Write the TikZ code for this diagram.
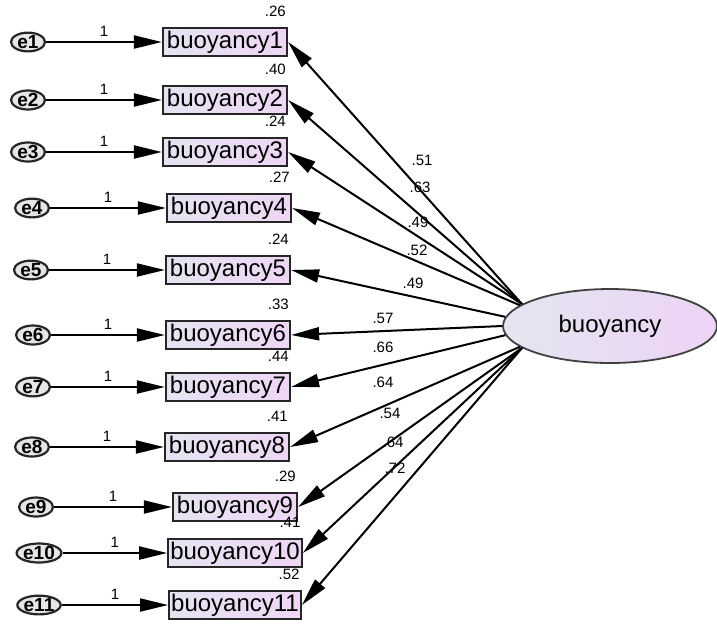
\documentclass[tikz,border=0pt]{standalone}
\usepackage{fontspec}
\setmainfont{Liberation Sans}
\usepackage{xcolor}
\usepackage{tikz}
\usetikzlibrary{arrows.meta,shapes.geometric}
\definecolor{obsleft}{HTML}{E4E4F2}
\definecolor{obsright}{HTML}{EFD6F4}
\definecolor{latleft}{HTML}{E3E6F0}
\definecolor{latright}{HTML}{EDD3F6}
\definecolor{errfill}{HTML}{E6E6E6}
\tikzset{
  obsbox/.style={draw=black!85, line width=1.1pt, left color=obsleft, right color=obsright, minimum width=62pt, minimum height=14pt, inner sep=1pt, font=\fontsize{12}{12}\selectfont},
  errnode/.style={draw=black!85, ellipse, line width=1.1pt, fill=errfill, minimum width=17pt, minimum height=9pt, inner sep=0pt, font=\bfseries\fontsize{9.5}{9.5}\selectfont},
  latnode/.style={draw=black!75, ellipse, line width=0.9pt, left color=latleft, right color=latright, minimum width=107pt, minimum height=37pt, inner sep=0pt, font=\fontsize{12}{12}\selectfont},
  semarrow/.style={-{Triangle[length=14pt,width=6.5pt]}, line width=1pt},
  fixlabel/.style={font=\fontsize{7.5}{7.5}\selectfont, inner sep=2.5pt},
  varlabel/.style={font=\fontsize{7.5}{7.5}\selectfont, inner sep=1pt, anchor=south east, yshift=4pt},
  loadlabel/.style={font=\fontsize{7.5}{7.5}\selectfont, inner sep=0pt}
}

\begin{document}
\begin{tikzpicture}[x=0.5pt,y=-0.5pt]
\useasboundingbox (0,0) rectangle (717,623);
% latent factor
\node[latnode] (lat) at (610,326) {buoyancy};
% indicators
\node[obsbox] (b1) at (225,42) {buoyancy1};
\node[obsbox] (b2) at (225,100) {buoyancy2};
\node[obsbox] (b3) at (225,152) {buoyancy3};
\node[obsbox] (b4) at (229,208) {buoyancy4};
\node[obsbox] (b5) at (228,270) {buoyancy5};
\node[obsbox] (b6) at (228,335) {buoyancy6};
\node[obsbox] (b7) at (228,387) {buoyancy7};
\node[obsbox] (b8) at (227,447) {buoyancy8};
\node[obsbox] (b9) at (235,507) {buoyancy9};
\node[obsbox] (b10) at (235,553) {buoyancy10};
\node[obsbox] (b11) at (235,605) {buoyancy11};
% error terms
\node[errnode] (e1) at (28,42) {e1};
\node[errnode] (e2) at (28,100) {e2};
\node[errnode] (e3) at (28,152) {e3};
\node[errnode] (e4) at (32,208) {e4};
\node[errnode] (e5) at (31,270) {e5};
\node[errnode] (e6) at (33,335) {e6};
\node[errnode] (e7) at (33,387) {e7};
\node[errnode] (e8) at (32,447) {e8};
\node[errnode] (e9) at (36,507) {e9};
\node[errnode] (e10) at (39,553) {e10};
\node[errnode] (e11) at (39,605) {e11};
% variances
\node[varlabel] (v1) at (b1.north east) {.26};
\node[varlabel] (v2) at (b2.north east) {.40};
\node[varlabel] (v3) at (b3.north east) {.24};
\node[varlabel] (v4) at (b4.north east) {.27};
\node[varlabel] (v5) at (b5.north east) {.24};
\node[varlabel] (v6) at (b6.north east) {.33};
\node[varlabel] (v7) at (b7.north east) {.44};
\node[varlabel] (v8) at (b8.north east) {.41};
\node[varlabel] (v9) at (b9.north east) {.29};
\node[varlabel] (v10) at (b10.north east) {.41};
\node[varlabel] (v11) at (b11.north east) {.52};
% error paths
\draw[semarrow] (e1) -- node[above,fixlabel] {1} (b1);
\draw[semarrow] (e2) -- node[above,fixlabel] {1} (b2);
\draw[semarrow] (e3) -- node[above,fixlabel] {1} (b3);
\draw[semarrow] (e4) -- node[above,fixlabel] {1} (b4);
\draw[semarrow] (e5) -- node[above,fixlabel] {1} (b5);
\draw[semarrow] (e6) -- node[above,fixlabel] {1} (b6);
\draw[semarrow] (e7) -- node[above,fixlabel] {1} (b7);
\draw[semarrow] (e8) -- node[above,fixlabel] {1} (b8);
\draw[semarrow] (e9) -- node[above,fixlabel] {1} (b9);
\draw[semarrow] (e10) -- node[above,fixlabel] {1} (b10);
\draw[semarrow] (e11) -- node[above,fixlabel] {1} (b11);
% loadings
\draw[semarrow] (lat.166) -- (b1.east);
\draw[semarrow] (lat.166) -- (b2.east);
\draw[semarrow] (lat.166) -- (b3.east);
\draw[semarrow] (lat.167) -- (b4.east);
\draw[semarrow] (lat.175) -- (b5.east);
\draw[semarrow] (lat.west) -- (b6.east);
\draw[semarrow] (lat.185) -- (b7.east);
\draw[semarrow] (lat.193) -- (b8.east);
\draw[semarrow] (lat.194) -- (b9.east);
\draw[semarrow] (lat.194) -- (b10.east);
\draw[semarrow] (lat.194) -- (b11.east);
\node[loadlabel] (l1) at (422,160) {.51};
\node[loadlabel] (l2) at (420,187) {.63};
\node[loadlabel] (l3) at (418,222) {.49};
\node[loadlabel] (l4) at (417,250) {.52};
\node[loadlabel] (l5) at (413,283) {.49};
\node[loadlabel] (l6) at (383,318) {.57};
\node[loadlabel] (l7) at (383,347) {.66};
\node[loadlabel] (l8) at (383,382) {.64};
\node[loadlabel] (l9) at (390,413) {.54};
\node[loadlabel] (l10) at (393,442) {.64};
\node[loadlabel] (l11) at (395,468) {.72};
\end{tikzpicture}
\end{document}
